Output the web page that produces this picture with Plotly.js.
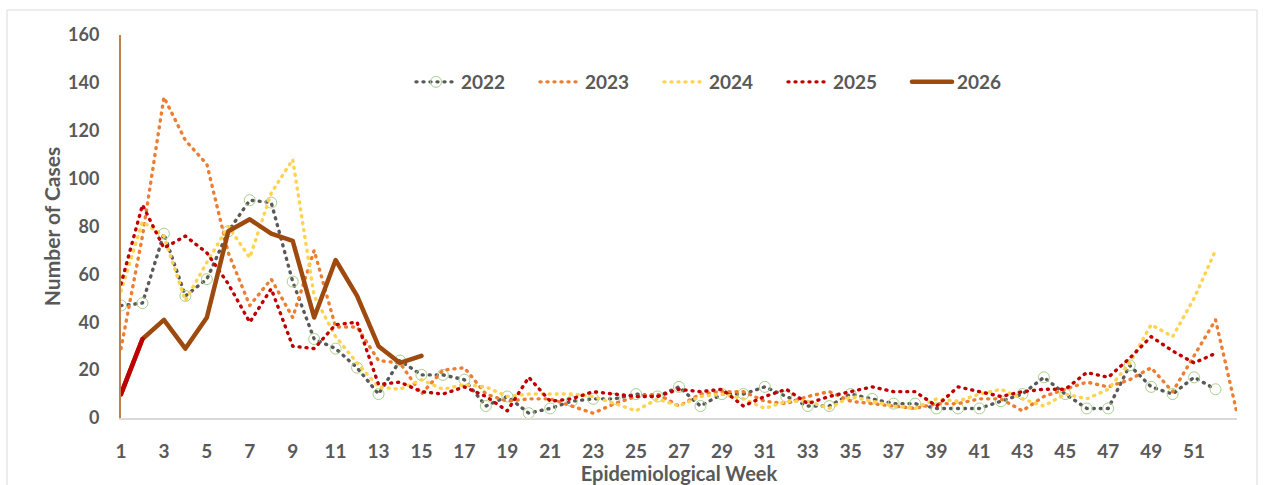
<!DOCTYPE html>
<html>
<head>
<meta charset="utf-8">
<script src="https://cdn.plot.ly/plotly-3.0.1.min.js"></script>
<style>
  html, body { margin: 0; padding: 0; background: #fff; }
  #chart { width: 1263px; height: 485px; }
  .scatterlayer .js-line, .legend .js-line { stroke-linecap: round; stroke-linejoin: round; }
</style>
</head>
<body>
<div id="chart"></div>
<script>
const weeks = Array.from({length: 53}, (_, i) => i + 1);
const tickWeeks = [1,3,5,7,9,11,13,15,17,19,21,23,25,27,29,31,33,35,37,39,41,43,45,47,49,51];

const cases2022 = [47,48,77,51,58,78,91,90,57,33,29,21,10,24,18,18,16,5,9,2,4,7,8,8,10,9,13,5,10,10,13,9,5,5,10,8,6,6,4,4,4,7,10,17,10,4,4,22,13,10,17,12,null];
const cases2023 = [29,76,134,116,106,69,47,58,42,70,38,38,24,23,10,20,21,10,7,8,8,5,2,6,9,10,5,10,11,11,7,6,9,11,7,6,5,4,6,6,8,8,3,9,12,15,13,16,21,11,26,41,2];
const cases2024 = [53,82,76,49,65,80,67,94,108,51,34,23,13,12,16,12,14,13,9,10,10,10,9,6,3,8,5,9,10,8,4,7,7,4,9,7,5,4,8,7,10,12,8,5,10,8,12,23,39,34,50,70,null];
const cases2025 = [56,89,71,76,69,56,40,54,30,29,39,40,14,15,11,10,13,9,3,17,7,8,11,10,9,9,12,11,12,5,9,12,6,9,11,13,11,11,5,13,11,9,11,12,12,19,17,25,34,28,23,27,null];
const cases2026 = [10,33,41,29,42,78,83,77,74,42,66,51,30,23,26];

const colors = {'2022':'#595959','2023':'#ED7D31','2024':'#FFD24F','2025':'#C00000','2026':'#9E4A0E'};
const dotDash = '1px,6px';
const txt = '#595959';
const fnt = 'Lato, "Open Sans", sans-serif';

const traces = [
  {x: weeks, y: cases2022, name: '2022', type: 'scatter', mode: 'lines+markers',
   line: {color: colors['2022'], width: 3.4, dash: dotDash},
   marker: {symbol: 'circle-open', size: 11, color: '#A8D08D', line: {width: 1, color: '#A8D08D'}}},
  {x: weeks, y: cases2023, name: '2023', type: 'scatter', mode: 'lines',
   line: {color: colors['2023'], width: 3.4, dash: dotDash}},
  {x: weeks, y: cases2024, name: '2024', type: 'scatter', mode: 'lines',
   line: {color: colors['2024'], width: 3.4, dash: dotDash}},
  {x: weeks, y: cases2025, name: '2025', type: 'scatter', mode: 'lines',
   line: {color: colors['2025'], width: 3.4, dash: dotDash}},
  {x: weeks.slice(0, cases2026.length), y: cases2026, name: '2026', type: 'scatter', mode: 'lines',
   line: {color: colors['2026'], width: 4.5}},
  {x: weeks.slice(0, 2), y: cases2026.slice(0, 2), name: '2026', type: 'scatter', mode: 'lines',
   showlegend: false, line: {color: colors['2025'], width: 4.5}}
];

const plotL = 121, plotR = 1237, plotT = 35, plotB = 418;
const pw = plotR - plotL, ph = plotB - plotT;

const layout = {
  width: 1263, height: 485,
  margin: {l: plotL, r: 1263 - plotR, t: plotT, b: 485 - plotB},
  paper_bgcolor: '#fff', plot_bgcolor: '#fff',
  font: {family: fnt, color: txt, size: 18, weight: 700},
  showlegend: true,
  legend: {orientation: 'h', x: (411 - plotL) / pw, xanchor: 'left', y: (plotB - 82) / ph, yanchor: 'middle',
           itemwidth: 40, entrywidth: 69, entrywidthmode: 'pixels', bgcolor: 'rgba(0,0,0,0)',
           font: {family: fnt, size: 19, color: txt, weight: 700}},
  xaxis: {
    range: [1, 53], tickmode: 'array', tickvals: tickWeeks, ticktext: tickWeeks.map(String),
    showgrid: false, zeroline: false, showline: true, linecolor: '#D9D9D9', linewidth: 2,
    ticks: 'outside', ticklen: 15, tickcolor: 'rgba(0,0,0,0)',
    tickfont: {family: fnt, size: 19, color: txt, weight: 700},
    title: {text: 'Epidemiological Week', standoff: 6, font: {family: fnt, size: 20, color: txt, weight: 700}}
  },
  yaxis: {
    range: [0, 160], tickmode: 'array', tickvals: [0,20,40,60,80,100,120,140,160],
    showgrid: false, zeroline: false, showline: true, linecolor: '#C0804A', linewidth: 2,
    ticks: 'outside', ticklen: 16, tickcolor: 'rgba(0,0,0,0)',
    tickfont: {family: fnt, size: 18, color: txt, weight: 700},
    title: {text: 'Number of Cases', standoff: 2, font: {family: fnt, size: 21, color: txt, weight: 700}}
  },
  shapes: [{type: 'rect', xref: 'paper', yref: 'paper',
            x0: (7 - plotL) / pw, x1: (1257 - plotL) / pw,
            y0: (plotB - 500) / ph, y1: (plotB - 10) / ph,
            line: {color: '#D9D9D9', width: 1}, fillcolor: 'rgba(0,0,0,0)', layer: 'below'}]
};

Plotly.newPlot('chart', traces, layout, {displayModeBar: false, staticPlot: true});
</script>
</body>
</html>
